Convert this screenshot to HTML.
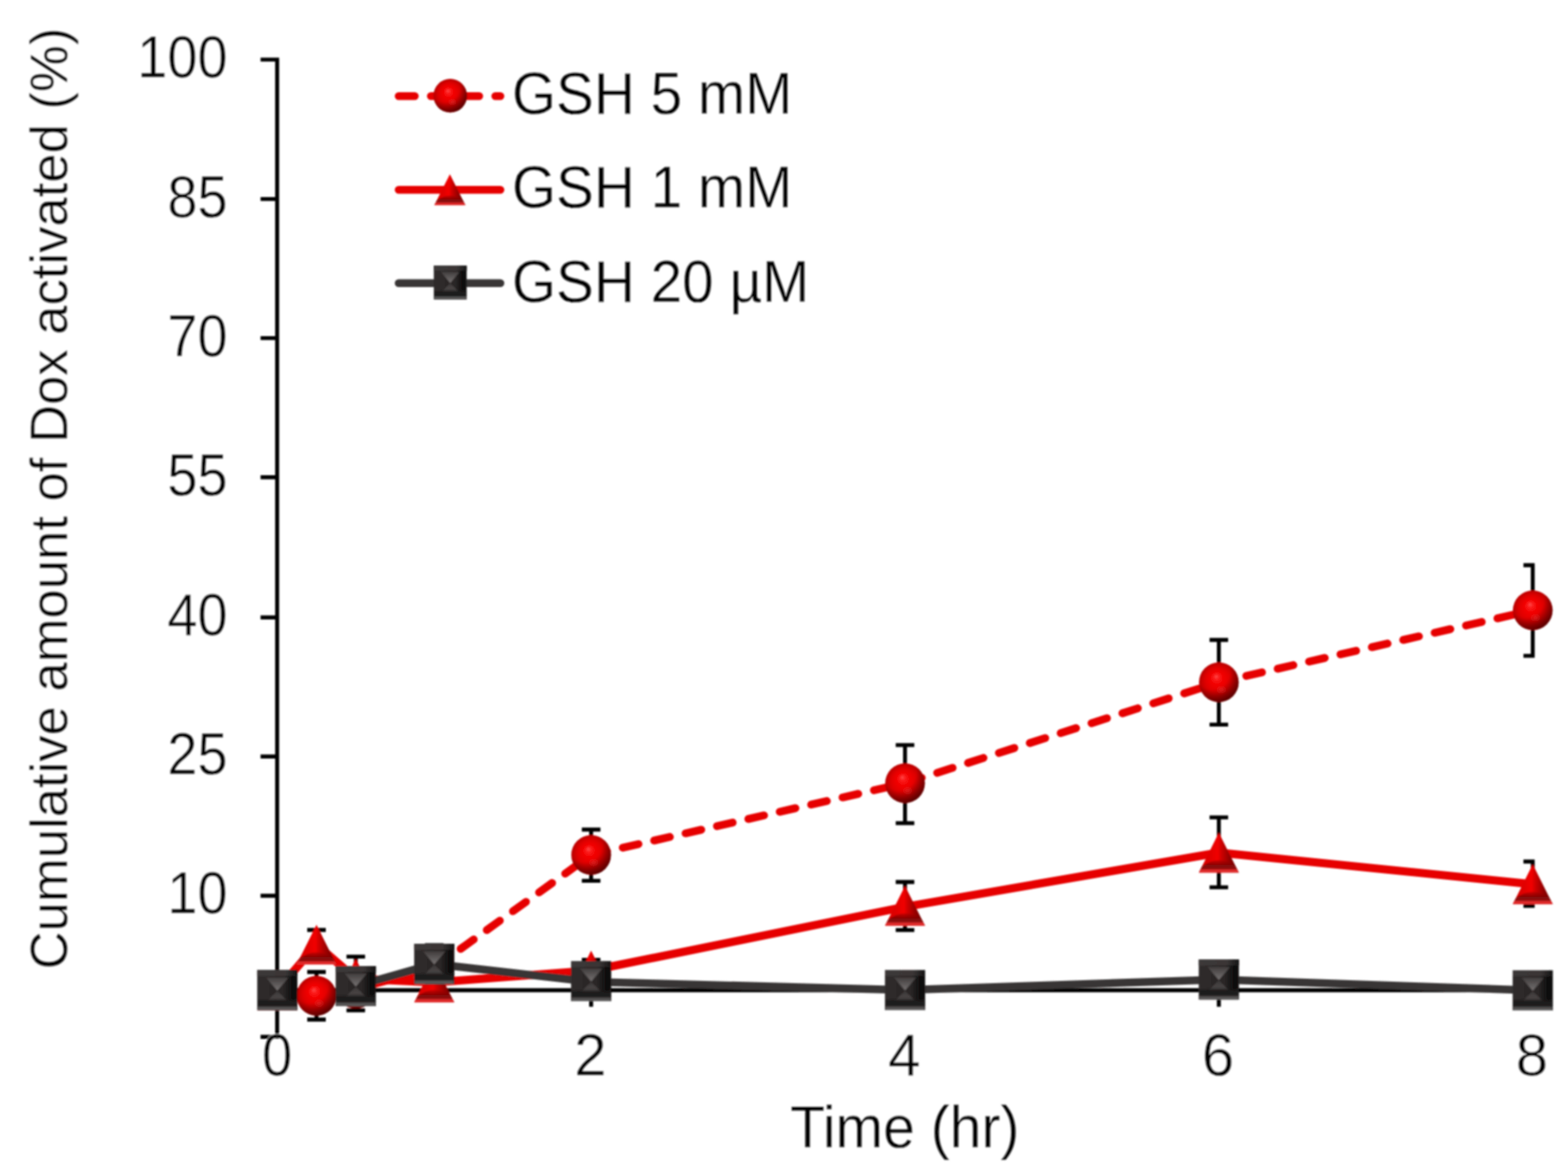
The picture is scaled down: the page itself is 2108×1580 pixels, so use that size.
<!DOCTYPE html>
<html lang="en"><head><meta charset="utf-8"><title>Cumulative amount of Dox activated</title>
<style>html,body{margin:0;padding:0;background:#fff}body{width:2108px;height:1580px;overflow:hidden}svg{display:block}text{font-family:'Liberation Sans', Arial, Helvetica, sans-serif;fill:#000}</style>
</head><body>
<svg width="2108" height="1580" viewBox="0 0 2108 1580">
<defs>
<filter id="soft" x="0" y="0" width="2108" height="1580" filterUnits="userSpaceOnUse"><feGaussianBlur stdDeviation="0.95"/></filter>
<radialGradient id="gS" cx="0.5" cy="0.5" r="0.52" fx="0.43" fy="0.35"><stop offset="0" stop-color="#ff4c4c"/><stop offset="0.13" stop-color="#fc1c1c"/><stop offset="0.32" stop-color="#f20000"/><stop offset="0.62" stop-color="#de0000"/><stop offset="0.85" stop-color="#c20000"/><stop offset="1" stop-color="#b00000"/></radialGradient>
<radialGradient id="gS2" cx="0.34" cy="0.24" r="0.88"><stop offset="0.5" stop-color="#4a0000" stop-opacity="0"/><stop offset="0.74" stop-color="#4a0000" stop-opacity="0.5"/><stop offset="0.9" stop-color="#400000" stop-opacity="0.8"/><stop offset="1" stop-color="#380000" stop-opacity="0.9"/></radialGradient>
<radialGradient id="gS3" cx="0.5" cy="0.5" r="0.5"><stop offset="0" stop-color="#e83232" stop-opacity="0.55"/><stop offset="1" stop-color="#e83232" stop-opacity="0"/></radialGradient>
<g id="mC"><circle r="26.7" fill="url(#gS)"/><circle r="26.7" fill="url(#gS2)"/><ellipse cx="3.5" cy="10" rx="8" ry="6.5" fill="url(#gS3)"/><path d="M-12 23.6A26.7 26.7 0 0 0 12 23.6A28 28 0 0 1 -12 23.6Z" fill="#e62a2a" opacity="0.7"/></g>
<linearGradient id="gT" x1="0" y1="0" x2="1" y2="0"><stop offset="0" stop-color="#d40000"/><stop offset="0.3" stop-color="#e20000"/><stop offset="0.47" stop-color="#f20000"/><stop offset="0.56" stop-color="#d00000"/><stop offset="0.75" stop-color="#980000"/><stop offset="1" stop-color="#5e0000"/></linearGradient>
<linearGradient id="gTb" x1="0" y1="0" x2="0" y2="1"><stop offset="0" stop-color="#a00000" stop-opacity="0.5"/><stop offset="0.45" stop-color="#800808"/><stop offset="0.75" stop-color="#9c1010"/><stop offset="1" stop-color="#d82424"/></linearGradient>
<g id="mT"><polygon points="0,-26.7 26.8,26.7 -26.8,26.7" fill="url(#gT)"/><path d="M-22.5 18.5Q0 2 22.5 18.5L26.8 26.7H-26.8Z" fill="url(#gTb)"/><path d="M-26.8 26.7L-24.8 22.8H24.8L26.8 26.7Z" fill="#e22c2c"/></g>
<linearGradient id="gQ" x1="0" y1="0" x2="1" y2="0"><stop offset="0" stop-color="#2f2b2b"/><stop offset="0.65" stop-color="#2a2626"/><stop offset="0.9" stop-color="#0c0b0b"/><stop offset="1" stop-color="#161515"/></linearGradient>
<linearGradient id="gQt" x1="0" y1="0" x2="0" y2="1"><stop offset="0" stop-color="#413d3d"/><stop offset="0.5" stop-color="#5c5858"/><stop offset="1" stop-color="#767272"/></linearGradient>
<linearGradient id="gQb" x1="0" y1="0" x2="0" y2="1"><stop offset="0" stop-color="#3a3636"/><stop offset="0.6" stop-color="#484444"/><stop offset="1" stop-color="#3c3838"/></linearGradient>
<linearGradient id="gQh" x1="0" y1="0" x2="1" y2="0"><stop offset="0" stop-color="#3c3838"/><stop offset="0.7" stop-color="#3a3636"/><stop offset="1" stop-color="#141313"/></linearGradient>
<linearGradient id="gQf" x1="0" y1="0" x2="0" y2="1"><stop offset="0" stop-color="#1d1b1b" stop-opacity="0"/><stop offset="0.3" stop-color="#1d1b1b"/><stop offset="0.62" stop-color="#1d1b1b"/><stop offset="0.78" stop-color="#555353"/><stop offset="1" stop-color="#5c5a5a"/></linearGradient>
<g id="mQ"><rect x="-27" y="-27" width="54" height="54" fill="url(#gQ)"/><rect x="-27" y="-27" width="54" height="8" fill="url(#gQh)"/><polygon points="-15,-17 15,-17 0,0.5" fill="url(#gQt)"/><polygon points="-13,14 13,14 0,1" fill="url(#gQb)"/><rect x="-26" y="11" width="52" height="16" fill="url(#gQf)"/></g>
</defs>
<rect width="2108" height="1580" fill="#fff"/>
<g filter="url(#soft)">
<path d="M372.6 77.4V1397.0M350.3 80.1H372.6M350.3 267.6H372.6M350.3 454.6H372.6M350.3 641.8H372.6M350.3 830.3H372.6M350.3 1017.3H372.6M350.3 1204.5H372.6M350.3 1394.3H372.6M372.6 1331.5H2060.6M794.7 1331.5V1353.8M1216.7 1331.5V1353.8M1638.6 1331.5V1353.8M2060.6 1331.5V1353.8" fill="none" stroke="#000" stroke-width="5.4"/>
<g>
<text transform="translate(306.0 104.0) scale(0.912 1)" font-size="79.8" text-anchor="end" stroke="#fff" stroke-width="0.5" stroke-linejoin="round">100</text>
<text transform="translate(306.0 291.5) scale(0.912 1)" font-size="79.8" text-anchor="end" stroke="#fff" stroke-width="0.5" stroke-linejoin="round">85</text>
<text transform="translate(306.0 478.5) scale(0.912 1)" font-size="79.8" text-anchor="end" stroke="#fff" stroke-width="0.5" stroke-linejoin="round">70</text>
<text transform="translate(306.0 665.7) scale(0.912 1)" font-size="79.8" text-anchor="end" stroke="#fff" stroke-width="0.5" stroke-linejoin="round">55</text>
<text transform="translate(306.0 854.2) scale(0.912 1)" font-size="79.8" text-anchor="end" stroke="#fff" stroke-width="0.5" stroke-linejoin="round">40</text>
<text transform="translate(306.0 1041.2) scale(0.912 1)" font-size="79.8" text-anchor="end" stroke="#fff" stroke-width="0.5" stroke-linejoin="round">25</text>
<text transform="translate(306.0 1228.4) scale(0.912 1)" font-size="79.8" text-anchor="end" stroke="#fff" stroke-width="0.5" stroke-linejoin="round">10</text>
<text transform="translate(372.6 1445.9) scale(0.915 1)" font-size="79.8" text-anchor="middle" stroke="#fff" stroke-width="0.5" stroke-linejoin="round">0</text>
<text transform="translate(793.7 1445.9) scale(0.98 1)" font-size="79.8" text-anchor="middle" stroke="#fff" stroke-width="0.5" stroke-linejoin="round">2</text>
<text transform="translate(1215.7 1445.9) scale(0.98 1)" font-size="79.8" text-anchor="middle" stroke="#fff" stroke-width="0.5" stroke-linejoin="round">4</text>
<text transform="translate(1637.6 1445.9) scale(0.98 1)" font-size="79.8" text-anchor="middle" stroke="#fff" stroke-width="0.5" stroke-linejoin="round">6</text>
<text transform="translate(2059.6 1445.9) scale(0.98 1)" font-size="79.8" text-anchor="middle" stroke="#fff" stroke-width="0.5" stroke-linejoin="round">8</text>
<text transform="translate(1216.4 1542.5) scale(0.972 1)" font-size="79.0" text-anchor="middle" stroke="#fff" stroke-width="0.3" stroke-linejoin="round">Time (hr)</text>
<text transform="translate(90.3 670.4) rotate(-90) scale(1.001 1)" font-size="70.7" text-anchor="middle" stroke="#fff" stroke-width="0.4" stroke-linejoin="round">Cumulative amount of Dox activated (%)</text>
</g>
<g>
<path d="M425.5 1307.0V1371.0M413.0 1307.0H438.0M413.0 1371.0H438.0" fill="none" stroke="#000" stroke-width="5.3"/>
<path d="M478.3 1286.4V1358.6M465.8 1286.4H490.8M465.8 1358.6H490.8" fill="none" stroke="#000" stroke-width="5.3"/>
<path d="M794.7 1115.5V1184.4M782.2 1115.5H807.2M782.2 1184.4H807.2" fill="none" stroke="#000" stroke-width="5.3"/>
<path d="M1216.7 1001.8V1106.9M1204.2 1001.8H1229.2M1204.2 1106.9H1229.2" fill="none" stroke="#000" stroke-width="5.3"/>
<path d="M1638.6 860.5V974.4M1626.1 860.5H1651.1M1626.1 974.4H1651.1" fill="none" stroke="#000" stroke-width="5.3"/>
<path d="M2060.6 760.0V881.8M2048.1 760.0H2063.2M2048.1 881.8H2063.2" fill="none" stroke="#000" stroke-width="5.3"/>
<polyline points="372.8,1331.5 425.5,1339.0 478.3,1329.5 583.8,1301.5 794.7,1149.6 1216.7,1053.1" fill="none" stroke="#e60000" stroke-width="10.6" stroke-linecap="round" stroke-linejoin="round" stroke-dasharray="21.6 21.7" stroke-dashoffset="0.00"/>
<polyline points="1216.7,1053.1 1638.6,917.4" fill="none" stroke="#e60000" stroke-width="10.6" stroke-linecap="round" stroke-linejoin="round" stroke-dasharray="21.75 21.85" stroke-dashoffset="41.80"/>
<polyline points="1638.6,917.4 2060.6,820.6" fill="none" stroke="#e60000" stroke-width="10.6" stroke-linecap="round" stroke-linejoin="round" stroke-dasharray="21.6 21.7" stroke-dashoffset="5.43"/>
<use href="#mC" transform="translate(372.8 1331.5) scale(1.0000)"/>
<use href="#mC" transform="translate(425.5 1339.0) scale(1.0000)"/>
<use href="#mC" transform="translate(478.3 1329.5) scale(1.0000)"/>
<use href="#mC" transform="translate(583.8 1301.5) scale(1.0000)"/>
<use href="#mC" transform="translate(794.7 1149.6) scale(1.0000)"/>
<use href="#mC" transform="translate(1216.7 1053.1) scale(1.0000)"/>
<use href="#mC" transform="translate(1638.6 917.4) scale(1.0000)"/>
<use href="#mC" transform="translate(2060.6 820.6) scale(1.0000)"/>
</g>
<g>
<path d="M425.5 1250.5V1291.0M413.0 1250.5H438.0M413.0 1291.0H438.0" fill="none" stroke="#000" stroke-width="5.3"/>
<path d="M794.7 1290.6V1320.0M782.2 1290.6H807.2M782.2 1320.0H807.2" fill="none" stroke="#000" stroke-width="5.3"/>
<path d="M1216.7 1186.0V1250.7M1204.2 1186.0H1229.2M1204.2 1250.7H1229.2" fill="none" stroke="#000" stroke-width="5.3"/>
<path d="M1638.6 1099.2V1193.1M1626.1 1099.2H1651.1M1626.1 1193.1H1651.1" fill="none" stroke="#000" stroke-width="5.3"/>
<path d="M2060.6 1158.5V1218.0M2048.1 1158.5H2063.2M2048.1 1218.0H2063.2" fill="none" stroke="#000" stroke-width="5.3"/>
<polyline points="372.8,1331.5 425.5,1270.3 478.3,1316.0 583.8,1321.0 794.7,1305.0 1216.7,1219.4 1638.6,1146.5 2060.6,1189.0" fill="none" stroke="#e60000" stroke-width="11.1" stroke-linecap="round" stroke-linejoin="round"/>
<use href="#mT" transform="translate(372.8 1331.5) scale(1.0000 1.0000)"/>
<use href="#mT" transform="translate(425.5 1270.3) scale(1.0000 1.0000)"/>
<use href="#mT" transform="translate(478.3 1316.0) scale(1.0000 1.0000)"/>
<use href="#mT" transform="translate(583.8 1321.0) scale(1.0000 1.0000)"/>
<use href="#mT" transform="translate(794.7 1305.0) scale(1.0000 1.0000)"/>
<use href="#mT" transform="translate(1216.7 1218.0) scale(1.0000 1.0000)"/>
<use href="#mT" transform="translate(1638.6 1146.5) scale(1.0000 1.0000)"/>
<use href="#mT" transform="translate(2060.6 1189.0) scale(1.0000 1.0000)"/>
</g>
<g>
<path d="M583.8 1271.0V1321.0M571.3 1271.0H596.3M571.3 1321.0H596.3" fill="none" stroke="#000" stroke-width="5.3"/>
<polyline points="478.3,1326.0 583.8,1296.2 794.7,1320.2 1216.7,1331.3 1638.6,1317.2 2060.6,1331.7" fill="none" stroke="#383636" stroke-width="10.6" stroke-linecap="round" stroke-linejoin="round"/>
<use href="#mQ" transform="translate(372.8 1331.4) scale(1.0000)"/>
<use href="#mQ" transform="translate(478.3 1326.0) scale(1.0000)"/>
<use href="#mQ" transform="translate(583.8 1296.2) scale(1.0000)"/>
<use href="#mQ" transform="translate(794.7 1319.3) scale(1.0000)"/>
<use href="#mQ" transform="translate(1216.7 1331.3) scale(1.0000)"/>
<use href="#mQ" transform="translate(1638.6 1317.2) scale(1.0000)"/>
<use href="#mQ" transform="translate(2060.6 1331.7) scale(1.0000)"/>
</g>
<g>
<path d="M536.0 129.2H672.7" stroke="#e60000" stroke-width="10.6" stroke-linecap="round" stroke-dasharray="21.6 21.7" fill="none"/>
<use href="#mC" transform="translate(605.3 128.7) scale(0.8464)"/>
<path d="M536.0 255.3H672.7" stroke="#e60000" stroke-width="10.6" stroke-linecap="round" fill="none"/>
<use href="#mT" transform="translate(604.8 255.0) scale(0.7743 0.7790)"/>
<path d="M536.0 380.8H672.7" stroke="#383636" stroke-width="10.6" stroke-linecap="round" fill="none"/>
<use href="#mQ" transform="translate(605.3 380.0) scale(0.8185 0.8444)"/>
</g>
<g>
<text transform="translate(688.3 152.9) scale(0.959 1)" font-size="79.5" text-anchor="start" stroke="#fff" stroke-width="0.3" stroke-linejoin="round">GSH 5 mM</text>
<text transform="translate(688.3 279.1) scale(0.959 1)" font-size="79.5" text-anchor="start" stroke="#fff" stroke-width="0.3" stroke-linejoin="round">GSH 1 mM</text>
<text transform="translate(688.3 406.2) scale(0.959 1)" font-size="79.5" text-anchor="start" stroke="#fff" stroke-width="0.3" stroke-linejoin="round">GSH 20 µM</text>
</g>
</g>
</svg>
</body></html>
